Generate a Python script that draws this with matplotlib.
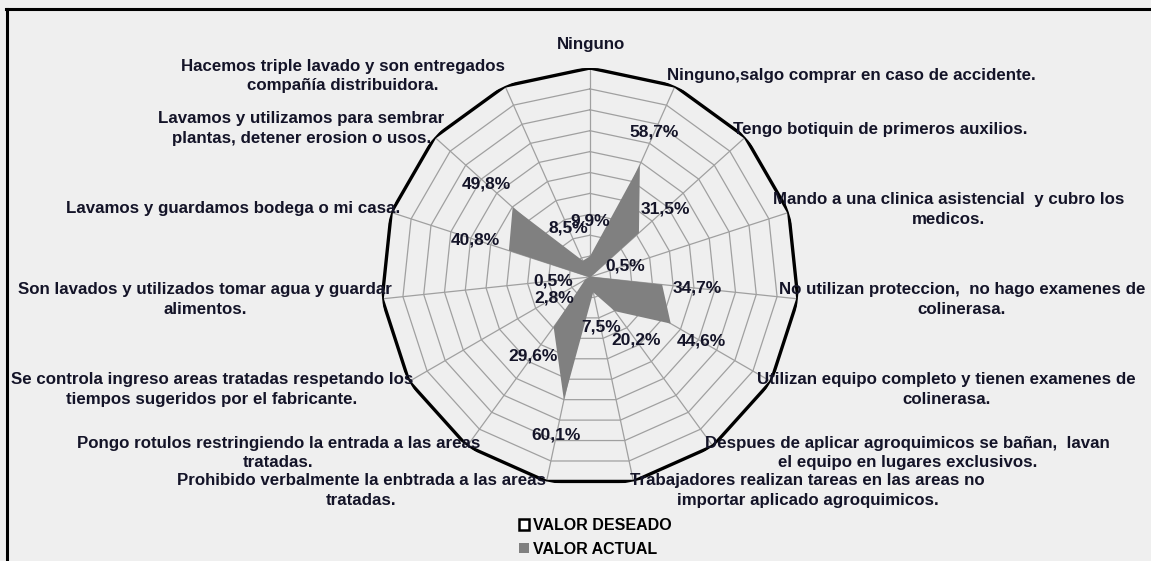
import numpy as np
import matplotlib

matplotlib.use("Agg")
import matplotlib.pyplot as plt
from matplotlib.lines import Line2D
from matplotlib.patches import Patch

W, H, DPI = 1151, 561, 100
FONT = ["Liberation Sans", "DejaVu Sans"]

categories = [
    "Ninguno",
    "Ninguno,salgo comprar en caso de accidente.",
    "Tengo botiquin de primeros auxilios.",
    "Mando a una clinica asistencial  y cubro los\nmedicos.",
    "No utilizan proteccion,  no hago examenes de\ncolinerasa.",
    "Utilizan equipo completo y tienen examenes de\ncolinerasa.",
    "Despues de aplicar agroquimicos se bañan,  lavan\nel equipo en lugares exclusivos.",
    "Trabajadores realizan tareas en las areas no\nimportar aplicado agroquimicos.",
    "Prohibido verbalmente la enbtrada a las areas\ntratadas.",
    "Pongo rotulos restringiendo la entrada a las areas\ntratadas.",
    "Se controla ingreso areas tratadas respetando los\ntiempos sugeridos por el fabricante.",
    "Son lavados y utilizados tomar agua y guardar\nalimentos.",
    "Lavamos y guardamos bodega o mi casa.",
    "Lavamos y utilizamos para sembrar\nplantas, detener erosion o usos.",
    "Hacemos triple lavado y son entregados\ncompañía distribuidora.",
]
valor_deseado = [100] * 15
valor_actual = [9.9, 58.7, 31.5, 0.5, 34.7, 44.6, 20.2, 7.5,
                60.1, 29.6, 2.8, 0.5, 40.8, 49.8, 8.5]
rings = [10, 20, 30, 40, 50, 60, 70, 80, 90]

# label placement: (ha, dx px, dy px) relative to the outer vertex
label_pos = [
    ("center", 1, 23), ("left", -8, 11), ("left", -12, 8), ("left", -16, 3),
    ("left", -19, -1), ("left", -14, -8), ("left", -8, -7), ("left", -3, -9),
    ("right", -1, -9), ("right", 13, -7), ("right", 4, -8), ("right", 10, -1),
    ("right", 9, 4), ("right", 10, 9), ("right", 0, 10),
]

n = len(categories)
theta = np.linspace(0, 2 * np.pi, n, endpoint=False)
theta_c = np.append(theta, theta[0])

fig = plt.figure(figsize=(W / DPI, H / DPI), dpi=DPI, facecolor="#efefef")

cx, cy, R = 590, 277, 209
ax = fig.add_axes([(cx - R) / W, (H - cy - R) / H, 2 * R / W, 2 * R / H],
                  projection="polar")
ax.set_facecolor("none")
ax.set_theta_zero_location("N")
ax.set_theta_direction(-1)
ax.set_ylim(0, 100)
ax.grid(False)
ax.set_xticks([])
ax.set_yticks([])
ax.spines["polar"].set_visible(False)

grid_col = "#a0a0a0"
for r in rings:
    ax.plot(theta_c, [r] * (n + 1), color=grid_col, lw=0.9, zorder=1)
for t in theta:
    ax.plot([t, t], [0, 100], color=grid_col, lw=0.9, zorder=1)

act = np.append(valor_actual, valor_actual[0])
ax.fill(theta_c, act, color="#808080", lw=0, zorder=2)
des = np.append(valor_deseado, valor_deseado[0])
ax.plot(theta_c, des, color="black", lw=2.4, zorder=3)

for t, v in zip(theta, valor_actual):
    ax.text(t, v + 17, f"{v:.1f}%".replace(".", ","), ha="center", va="center",
            fontsize=12.5, fontweight="bold", family=FONT, color="#141428",
            zorder=4)

for t, lab, (ha, dx, dy) in zip(theta, categories, label_pos):
    ax.annotate(lab, xy=(t, 100), xytext=(dx, dy), textcoords="offset pixels",
                ha=ha, va="center", multialignment="center", fontsize=12.2,
                fontweight="bold", family=FONT, color="#141428",
                linespacing=1.4, annotation_clip=False, zorder=4)

handles = [Patch(facecolor="white", edgecolor="black", lw=1.8),
           Patch(facecolor="#808080", edgecolor="none")]
fig.legend(handles, ["VALOR DESEADO", "VALOR ACTUAL"], loc="upper left",
           bbox_to_anchor=(508 / W, 1 - 507 / H), frameon=False,
           handlelength=0.6, handleheight=0.6, handletextpad=0.25,
           labelspacing=0.55, borderpad=0.2,
           prop={"family": FONT, "weight": "bold", "size": 11.5})

# frame lines (top and left)
fig.add_artist(Line2D([6 / W, 1], [1 - 9 / H, 1 - 9 / H], color="black",
                      lw=2.2, transform=fig.transFigure))
fig.add_artist(Line2D([7 / W, 7 / W], [0, 1 - 9 / H], color="black",
                      lw=2.2, transform=fig.transFigure))

fig.savefig("out.png", dpi=DPI, facecolor=fig.get_facecolor())
